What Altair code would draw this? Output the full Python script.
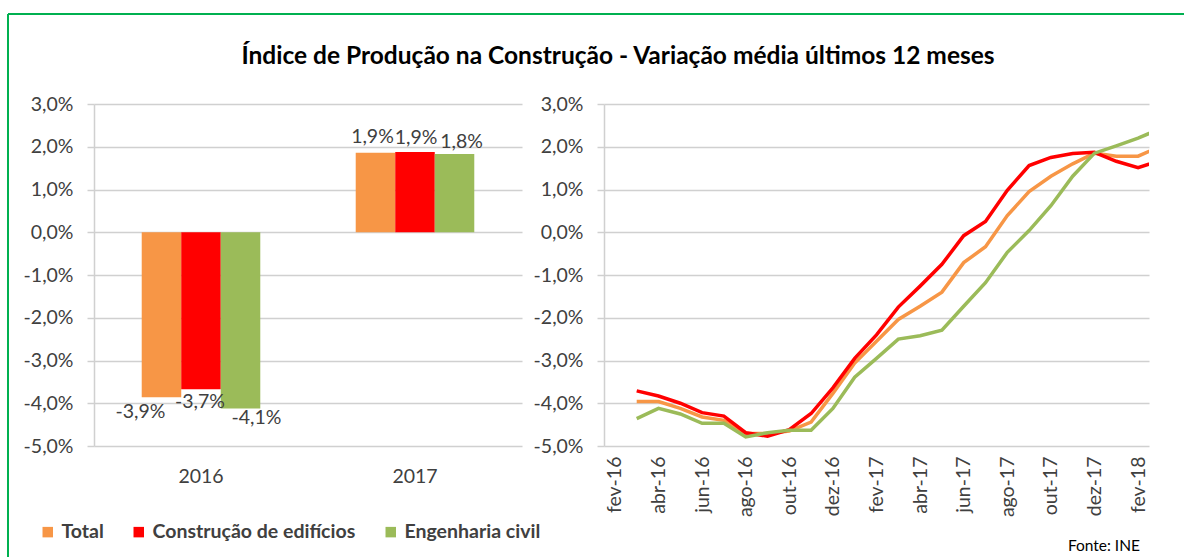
import altair as alt
import pandas as pd

# ---------------- data ----------------
years = ["2016", "2017"]
series = ["Total", "Construção de edifícios", "Engenharia civil"]
colors = ["#F79646", "#FF0000", "#9BBB59"]

bar_total = [-3.86, 1.86]
bar_edificios = [-3.67, 1.88]
bar_engenharia = [-4.12, 1.83]

month_labels = ["fev-16", "mar-16", "abr-16", "mai-16", "jun-16", "jul-16", "ago-16",
                "set-16", "out-16", "nov-16", "dez-16", "jan-17", "fev-17", "mar-17",
                "abr-17", "mai-17", "jun-17", "jul-17", "ago-17", "set-17", "out-17",
                "nov-17", "dez-17", "jan-18", "fev-18", "mar-18"]
line_months = month_labels[1:]  # mar-16 .. mar-18

line_total = [-3.96, -3.96, -4.12, -4.32, -4.40, -4.71, -4.71, -4.65, -4.44, -3.77,
              -3.06, -2.55, -2.04, -1.73, -1.40, -0.71, -0.34, 0.39, 0.95, 1.31,
              1.60, 1.85, 1.78, 1.78, 2.00]
line_edificios = [-3.71, -3.83, -4.00, -4.22, -4.30, -4.69, -4.77, -4.62, -4.24, -3.64,
                  -2.95, -2.40, -1.75, -1.26, -0.75, -0.08, 0.25, 0.98, 1.56, 1.75,
                  1.84, 1.87, 1.66, 1.51, 1.68]
line_engenharia = [-4.36, -4.12, -4.25, -4.47, -4.47, -4.79, -4.69, -4.63, -4.63, -4.12,
                   -3.39, -2.95, -2.50, -2.42, -2.29, -1.73, -1.18, -0.47, 0.04, 0.62,
                   1.31, 1.85, 2.02, 2.20, 2.42]

y_ticks = [-5, -4, -3, -2, -1, 0, 1, 2, 3]
x_tick_idx = list(range(0, 25, 2))

title_text = "Índice de Produção na Construção - Variação média últimos 12 meses"
source_text = "Fonte: INE"

# ---------------- tables ----------------
bar_rows = []
for name, vals in zip(series, [bar_total, bar_edificios, bar_engenharia]):
    for yr, v in zip(years, vals):
        bar_rows.append({"ano": yr, "serie": name, "valor": v,
                         "rotulo": f"{v:.1f}".replace(".", ",") + "%"})
bar_df = pd.DataFrame(bar_rows)

line_rows = []
for name, vals in zip(series, [line_total, line_edificios, line_engenharia]):
    for m, v in zip(line_months, vals):
        line_rows.append({"mes": m, "idx": month_labels.index(m), "serie": name, "valor": v})
line_df = pd.DataFrame(line_rows)

# ---------------- styles ----------------
FONT = "Lato"
LABEL_COLOR = "#404040"
GRID = "#D0D0D0"
FS = 19.5

color_scale = alt.Scale(domain=series, range=colors)
y_scale = alt.Scale(domain=[-5, 3], nice=False, zero=False)


def y_axis():
    return alt.Axis(values=y_ticks, labelExpr="datum.value + ',0%'", title=None,
                    grid=True, gridColor=GRID, gridWidth=1.5,
                    domain=True, domainColor=GRID, domainWidth=1.5,
                    ticks=True, tickColor=GRID, tickSize=7, tickWidth=1.5,
                    labelFont=FONT, labelFontSize=FS, labelColor=LABEL_COLOR,
                    labelPadding=14)


one = alt.Data(values=[{}])

# ---------------- left: bars ----------------
x_bar = alt.X("ano:N", sort=years,
              scale=alt.Scale(paddingInner=0.446, paddingOuter=0.223),
              axis=alt.Axis(title=None, labelAngle=0, ticks=False, domain=False,
                            labelFont=FONT, labelFontSize=FS, labelColor=LABEL_COLOR,
                            labelPadding=21))
xoff = alt.XOffset("serie:N", sort=series, scale=alt.Scale(paddingInner=0, paddingOuter=0))

bars = alt.Chart(bar_df).mark_bar().encode(
    x=x_bar,
    xOffset=xoff,
    y=alt.Y("valor:Q", scale=y_scale, axis=y_axis()),
    color=alt.Color("serie:N", scale=color_scale, sort=series,
                    legend=alt.Legend(orient="none", legendX=-56, legendY=418,
                                      direction="horizontal", title=None,
                                      symbolType="square", symbolSize=110,
                                      symbolStrokeWidth=0, padding=0,
                                      labelFont=FONT, labelFontSize=19.5,
                                      labelFontWeight="bold", labelColor=LABEL_COLOR,
                                      labelLimit=0, columnPadding=25, labelOffset=4)),
)

label_shift = {
    ("2016", "Total"): (-21, 15),
    ("2016", "Construção de edifícios"): (-1, 13),
    ("2016", "Engenharia civil"): (16, 10),
    ("2017", "Total"): (-3, -16),
    ("2017", "Construção de edifícios"): (1, -14),
    ("2017", "Engenharia civil"): (7, -12),
}
label_layers = []
for (yr, name), (dx, dy) in label_shift.items():
    label_layers.append(
        alt.Chart(bar_df).transform_filter(
            (alt.datum.ano == yr) & (alt.datum.serie == name)
        ).mark_text(dx=dx, dy=dy, baseline="middle", align="center",
                    font=FONT, fontSize=FS, color=LABEL_COLOR).encode(
            x=alt.X("ano:N", sort=years), xOffset=xoff,
            y=alt.Y("valor:Q", scale=y_scale), text="rotulo:N")
    )

border_top = alt.Chart(one).mark_rule(color="#00B050", strokeWidth=2).encode(
    x=alt.value(-86), x2=alt.value(1090), y=alt.value(-90))
border_left = alt.Chart(one).mark_rule(color="#00B050", strokeWidth=2).encode(
    x=alt.value(-86), y=alt.value(-90), y2=alt.value(453))
title_mark = alt.Chart(one).mark_text(text=title_text, font=FONT, fontSize=24.5,
                                      fontWeight="bold", color="#000000",
                                      align="center", baseline="middle").encode(
    x=alt.value(524), y=alt.value(-47))

left = alt.layer(border_top, border_left, title_mark, bars, *label_layers).properties(
    width=428, height=342)

# ---------------- right: lines ----------------
month_js = "[" + ",".join(f"'{m}'" for m in month_labels) + "]"
lines = alt.Chart(line_df).mark_line(strokeWidth=3.5, clip=True).encode(
    x=alt.X("idx:Q", scale=alt.Scale(domain=[-0.5, 24.5], nice=False, zero=False),
            axis=alt.Axis(values=x_tick_idx, labelExpr=month_js + "[datum.value]",
                          labelAngle=270, ticks=False, grid=False, domain=False,
                          labelOverlap=False, labelFlush=False, title=None,
                          labelFont=FONT, labelFontSize=FS, labelColor=LABEL_COLOR,
                          labelPadding=10)),
    y=alt.Y("valor:Q", scale=y_scale, axis=y_axis()),
    color=alt.Color("serie:N", scale=color_scale, sort=series, legend=None),
)
source_mark = alt.Chart(one).mark_text(text=source_text, font=FONT, fontSize=15.5,
                                       color="#000000", align="right",
                                       baseline="middle").encode(
    x=alt.value(536), y=alt.value(442))

right = alt.layer(lines, source_mark).properties(width=545, height=342)

chart = alt.hconcat(left, right, spacing=82, bounds="flush").resolve_scale(
    color="independent"
).configure_view(stroke=None).properties(
    padding={"left": 7, "top": 13, "right": 0, "bottom": 0},
    autosize=alt.AutoSizeParams(type="pad"),
    background="white",
)

chart.save("out.html", embed_options={"renderer": "svg", "actions": False})
